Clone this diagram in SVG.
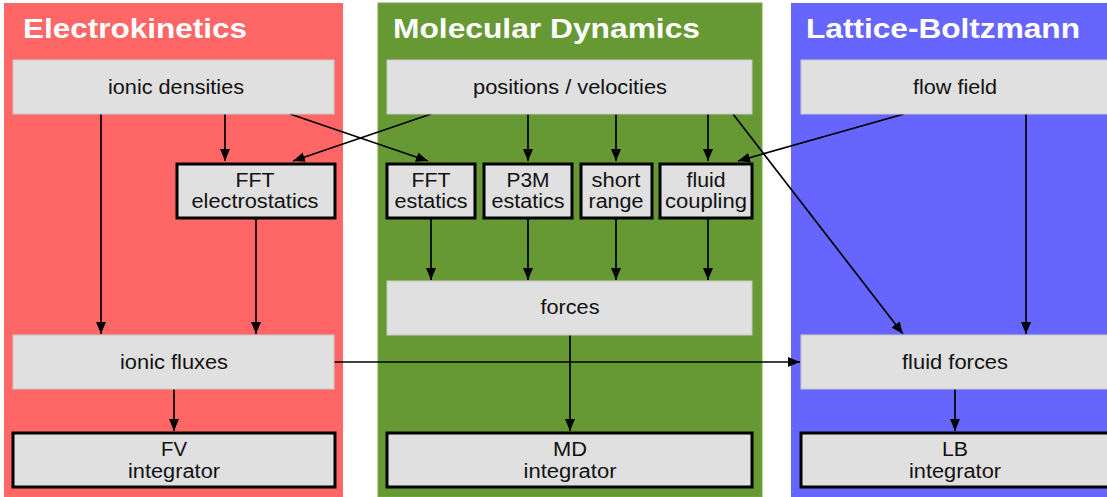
<svg xmlns="http://www.w3.org/2000/svg" width="1107" height="497" viewBox="0 0 1107 497">
<style>
.title{font-family:"Liberation Sans",Arial,sans-serif;font-weight:bold;font-size:28px;fill:#ffffff}
.lbl{font-family:"Liberation Sans",Arial,sans-serif;font-size:19.5px;fill:#111111;text-anchor:middle}
.soft{fill:#e0e0e0;stroke:#c8c8c8;stroke-width:1}
.hard{fill:#e0e0e0;stroke:#000000;stroke-width:3}
.conn{stroke:#000000;stroke-width:1.7;fill:none}
.arr{marker-end:url(#ah)}
</style>
<defs>
<marker id="ah" markerUnits="userSpaceOnUse" markerWidth="12" markerHeight="10" refX="12" refY="5" orient="auto">
<path d="M0,0 L12,5 L0,10 z" fill="#000000"/>
</marker>
</defs>
<g id="panels">
<rect id="panel-ek" x="4" y="3" width="339" height="494" fill="#ff6666"/>
<rect id="panel-md" x="378" y="3" width="384" height="494" fill="#669933" stroke="#77aa44" stroke-width="1"/>
<rect id="panel-lb" x="791" y="3" width="320" height="494" fill="#6666ff"/>
<text class="title" x="23" y="38" textLength="224" lengthAdjust="spacingAndGlyphs">Electrokinetics</text>
<text class="title" x="393" y="38" textLength="307" lengthAdjust="spacingAndGlyphs">Molecular Dynamics</text>
<text class="title" x="806" y="38" textLength="274" lengthAdjust="spacingAndGlyphs">Lattice-Boltzmann</text>
</g>
<g id="connectors">
<line class="conn arr" x1="101" y1="114" x2="101" y2="334"/>
<line class="conn arr" x1="225" y1="114" x2="225" y2="161"/>
<line class="conn arr" x1="290" y1="114" x2="428" y2="161"/>
<line class="conn arr" x1="431" y1="114" x2="293" y2="161"/>
<line class="conn arr" x1="528" y1="114" x2="528" y2="161"/>
<line class="conn arr" x1="616" y1="114" x2="616" y2="161"/>
<line class="conn arr" x1="708" y1="114" x2="708" y2="161"/>
<line class="conn arr" x1="904" y1="114" x2="738" y2="161"/>
<line class="conn arr" x1="733" y1="114" x2="903" y2="334"/>
<line class="conn arr" x1="1026" y1="114" x2="1026" y2="334"/>
<line class="conn arr" x1="256" y1="219" x2="256" y2="334"/>
<line class="conn arr" x1="431" y1="219" x2="431" y2="280"/>
<line class="conn arr" x1="528" y1="219" x2="528" y2="280"/>
<line class="conn arr" x1="616" y1="219" x2="616" y2="280"/>
<line class="conn arr" x1="708" y1="219" x2="708" y2="280"/>
<line class="conn arr" x1="570" y1="335" x2="570" y2="431"/>
<line class="conn arr" x1="174" y1="389" x2="174" y2="431"/>
<line class="conn arr" x1="955" y1="389" x2="955" y2="431"/>
<line class="conn arr" x1="334" y1="362" x2="800" y2="362"/>
</g>
<g id="ionic-densities">
<rect class="soft" x="13" y="60" width="321" height="54"/>
<text class="lbl" x="176" y="94" textLength="136" lengthAdjust="spacingAndGlyphs">ionic densities</text>
</g>
<g id="positions-velocities">
<rect class="soft" x="387" y="60" width="365" height="54"/>
<text class="lbl" x="570" y="94" textLength="194" lengthAdjust="spacingAndGlyphs">positions / velocities</text>
</g>
<g id="flow-field">
<rect class="soft" x="801" y="60" width="308" height="54"/>
<text class="lbl" x="955" y="94" textLength="84" lengthAdjust="spacingAndGlyphs">flow field</text>
</g>
<g id="fft-electrostatics">
<rect class="hard" x="177" y="164" width="158" height="54"/>
<text class="lbl" x="255" y="187" textLength="39" lengthAdjust="spacingAndGlyphs">FFT</text>
<text class="lbl" x="255" y="208" textLength="127" lengthAdjust="spacingAndGlyphs">electrostatics</text>
</g>
<g id="fft-estatics">
<rect class="hard" x="387" y="164" width="88" height="54"/>
<text class="lbl" x="431" y="187" textLength="39" lengthAdjust="spacingAndGlyphs">FFT</text>
<text class="lbl" x="431" y="208" textLength="73" lengthAdjust="spacingAndGlyphs">estatics</text>
</g>
<g id="p3m-estatics">
<rect class="hard" x="484" y="164" width="88" height="54"/>
<text class="lbl" x="528" y="187" textLength="43" lengthAdjust="spacingAndGlyphs">P3M</text>
<text class="lbl" x="528" y="208" textLength="73" lengthAdjust="spacingAndGlyphs">estatics</text>
</g>
<g id="short-range">
<rect class="hard" x="581" y="164" width="71" height="54"/>
<text class="lbl" x="616" y="187" textLength="49" lengthAdjust="spacingAndGlyphs">short</text>
<text class="lbl" x="616" y="208" textLength="55" lengthAdjust="spacingAndGlyphs">range</text>
</g>
<g id="fluid-coupling">
<rect class="hard" x="660" y="164" width="92" height="54"/>
<text class="lbl" x="706" y="187" textLength="39" lengthAdjust="spacingAndGlyphs">fluid</text>
<text class="lbl" x="706" y="208" textLength="82" lengthAdjust="spacingAndGlyphs">coupling</text>
</g>
<g id="forces">
<rect class="soft" x="387" y="281" width="365" height="54"/>
<text class="lbl" x="570" y="314" textLength="59" lengthAdjust="spacingAndGlyphs">forces</text>
</g>
<g id="ionic-fluxes">
<rect class="soft" x="13" y="335" width="321" height="54"/>
<text class="lbl" x="174" y="369" textLength="108" lengthAdjust="spacingAndGlyphs">ionic fluxes</text>
</g>
<g id="fluid-forces">
<rect class="soft" x="801" y="335" width="308" height="54"/>
<text class="lbl" x="955" y="369" textLength="106" lengthAdjust="spacingAndGlyphs">fluid forces</text>
</g>
<g id="fv-integrator">
<rect class="hard" x="13" y="433" width="322" height="54"/>
<text class="lbl" x="174" y="456" textLength="26" lengthAdjust="spacingAndGlyphs">FV</text>
<text class="lbl" x="174" y="478" textLength="92" lengthAdjust="spacingAndGlyphs">integrator</text>
</g>
<g id="md-integrator">
<rect class="hard" x="387" y="433" width="365" height="54"/>
<text class="lbl" x="570" y="456" textLength="34" lengthAdjust="spacingAndGlyphs">MD</text>
<text class="lbl" x="570" y="478" textLength="93" lengthAdjust="spacingAndGlyphs">integrator</text>
</g>
<g id="lb-integrator">
<rect class="hard" x="801" y="433" width="310" height="54"/>
<text class="lbl" x="955" y="456" textLength="26" lengthAdjust="spacingAndGlyphs">LB</text>
<text class="lbl" x="955" y="478" textLength="92" lengthAdjust="spacingAndGlyphs">integrator</text>
</g>
</svg>
